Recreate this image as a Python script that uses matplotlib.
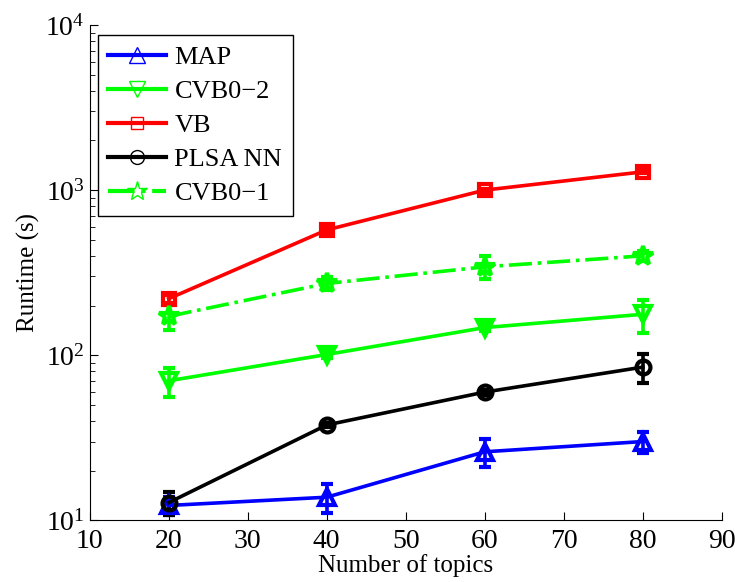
import numpy as np
import matplotlib
matplotlib.use("Agg")
import matplotlib.pyplot as plt
from matplotlib.lines import Line2D

plt.rcParams['font.family'] = ['Liberation Serif', 'DejaVu Serif']
plt.rcParams['mathtext.fontset'] = 'custom'
plt.rcParams['mathtext.rm'] = 'Liberation Serif'
plt.rcParams['mathtext.it'] = 'Liberation Serif:italic'

#------------------- data -------------------
topics = [20, 40, 60, 80]

map_rt = [12.3, 13.8, 26.0, 30.0]
map_err = [1.5, 2.7, 5.0, 4.5]

cvb2_rt = [70, 101, 147, 177]
cvb2_err = [14, 5, 7, 40]

vb_rt = [220, 574, 1000, 1290]
vb_err = [12, 15, 20, 25]

plsa_rt = [12.8, 37.8, 59.8, 84.7]
plsa_err = [2.1, 1.2, 2.0, 17]

cvb1_rt = [172, 272, 343, 400]
cvb1_err = [30, 25, 55, 30]

labels = ["MAP", "CVB0\u22122", "VB", "PLSA NN", "CVB0\u22121"]

#--------------------------------------------
series = [
    (map_rt, map_err, "b", "^", "-", 12),
    (cvb2_rt, cvb2_err, (0, 1, 0), "v", "-", 12),
    (vb_rt, vb_err, "r", "s", "-", 9),
    (plsa_rt, plsa_err, "k", "o", "-", 10),
    (cvb1_rt, cvb1_err, (0, 1, 0), "*", "-.", 15),
]

fig = plt.figure(figsize=(7.35, 5.82), dpi=100)
ax = fig.add_axes([0.122, 0.106, 0.860, 0.851])

handles = []
for (y, e, c, m, ls, ms), lab in zip(series, labels):
    ax.errorbar(topics, y, yerr=e, color=c, marker=m, linestyle=ls, lw=2.6,
                ms=ms, mfc='none', mec=c, mew=3.0, capsize=4, capthick=2.6,
                elinewidth=2.6)
    handles.append(Line2D([], [], color=c, marker=m, linestyle=ls, lw=3,
                          ms=ms, mfc='none', mec=c, mew=1.0))

ax.set_yscale('log')
ax.set_ylim(10, 1e4)
ax.set_xlim(10, 90)
ax.set_xticks(range(10, 91, 10))
ax.set_yticks([1e1, 1e2, 1e3, 1e4])

ax.spines['top'].set_visible(False)
ax.spines['right'].set_visible(False)
ax.tick_params(which='both', direction='in', labelsize=20)
ax.tick_params(which='major', length=6)
ax.tick_params(which='minor', length=3.5)
ax.tick_params(axis='x', pad=6)

ax.set_xlabel("Number of topics", fontsize=18, labelpad=0)
ax.set_ylabel("Runtime (s)", fontsize=18, labelpad=4)

leg = ax.legend(handles, labels, loc='upper left', bbox_to_anchor=(0.013, 0.98),
                borderaxespad=0, fontsize=19, handlelength=2.2,
                labelspacing=0.4, borderpad=0.4, handletextpad=0.3,
                fancybox=False, framealpha=1)
leg.get_frame().set_edgecolor('k')
leg.get_frame().set_linewidth(1.0)

plt.savefig("out.png", dpi=100)
